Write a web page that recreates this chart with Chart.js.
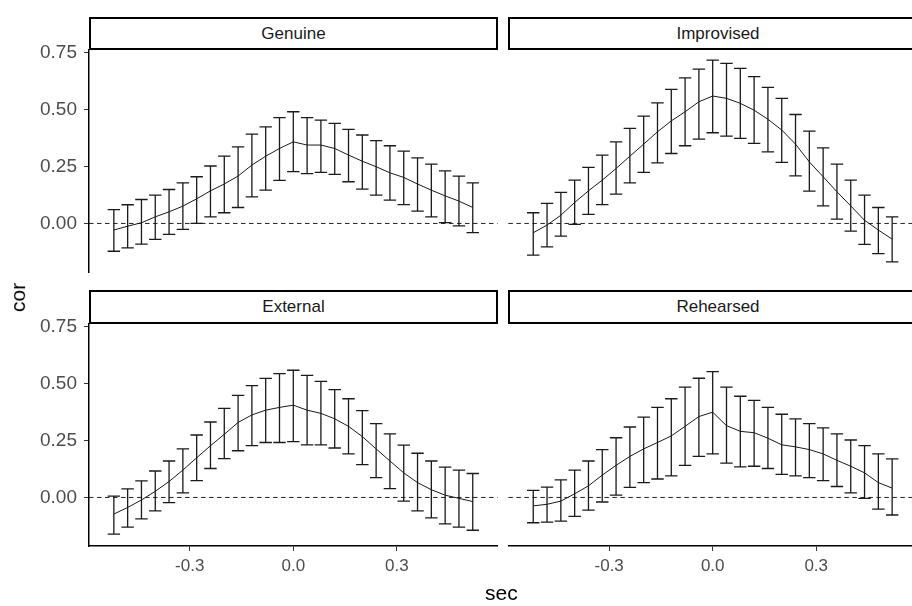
<!DOCTYPE html>
<html>
<head>
<meta charset="utf-8">
<script src="https://cdn.jsdelivr.net/npm/chart.js@4.4.1/dist/chart.umd.min.js"></script>
<style>
  html, body { margin:0; padding:0; background:#fff; overflow:hidden; width:912px; height:606px; }
  body { position:relative; font-family:'Liberation Sans', Arial, sans-serif; }
  canvas { position:absolute; }
  .strip { position:absolute; box-sizing:border-box; border:2px solid #000; background:#fff;
           font-size:17px; color:#1a1a1a; display:flex; align-items:center; justify-content:center; }
  .axis-title { position:absolute; font-size:21px; color:#000; line-height:1; }
</style>
</head>
<body>

<canvas id="c-genuine"    width="510" height="272" style="left:0px;   top:25px"></canvas>
<canvas id="c-improvised" width="430" height="272" style="left:500px; top:25px"></canvas>
<canvas id="c-external"   width="510" height="307" style="left:0px;   top:299px"></canvas>
<canvas id="c-rehearsed"  width="430" height="307" style="left:500px; top:299px"></canvas>

<div class="strip" style="left:89px; top:17px; width:409px; height:33px">Genuine</div>
<div class="strip" style="left:508px; top:17px; width:420px; height:33px">Improvised</div>
<div class="strip" style="left:89px; top:290px; width:409px; height:34px">External</div>
<div class="strip" style="left:508px; top:290px; width:420px; height:34px">Rehearsed</div>

<div class="axis-title" style="left:3px; top:287px; transform:rotate(-90deg)">cor</div>
<div class="axis-title" style="left:485px; top:582px">sec</div>

<script>
// ------------------------------------------------------------
// data (lag in seconds, mean correlation and error bar limits)
// ------------------------------------------------------------
const sec = [-0.52,-0.48,-0.44,-0.40,-0.36,-0.32,-0.28,-0.24,-0.20,-0.16,-0.12,-0.08,-0.04,0.00,
              0.04, 0.08, 0.12, 0.16, 0.20, 0.24, 0.28, 0.32, 0.36, 0.40, 0.44, 0.48, 0.52];

const genuineMean  = [-0.029,-0.012,0.003,0.029,0.051,0.076,0.108,0.143,0.173,0.208,0.256,0.295,0.329,0.358,0.344,0.344,0.329,0.300,0.273,0.249,0.222,0.202,0.173,0.146,0.121,0.098,0.070];
const genuineLow   = [-0.122,-0.107,-0.091,-0.070,-0.048,-0.026,0.000,0.029,0.047,0.070,0.117,0.146,0.189,0.227,0.219,0.224,0.215,0.183,0.151,0.124,0.102,0.083,0.054,0.029,0.004,-0.011,-0.040];
const genuineHigh  = [0.061,0.082,0.105,0.124,0.149,0.178,0.205,0.252,0.295,0.336,0.392,0.424,0.464,0.490,0.464,0.453,0.439,0.413,0.388,0.363,0.341,0.317,0.288,0.260,0.231,0.208,0.178];

const improvMean   = [-0.041,-0.007,0.036,0.092,0.143,0.190,0.241,0.295,0.348,0.402,0.450,0.490,0.534,0.559,0.549,0.527,0.497,0.457,0.410,0.348,0.270,0.205,0.139,0.077,0.014,-0.029,-0.069];
const improvLow    = [-0.139,-0.103,-0.056,-0.004,0.040,0.083,0.129,0.178,0.224,0.266,0.307,0.341,0.370,0.398,0.383,0.373,0.351,0.314,0.268,0.209,0.142,0.077,0.019,-0.034,-0.092,-0.132,-0.169];
const improvHigh   = [0.047,0.088,0.136,0.190,0.246,0.300,0.358,0.417,0.471,0.529,0.588,0.639,0.677,0.717,0.702,0.680,0.644,0.597,0.549,0.478,0.405,0.332,0.260,0.190,0.124,0.070,0.029];

const externalMean = [-0.073,-0.044,-0.011,0.027,0.070,0.120,0.174,0.227,0.277,0.329,0.362,0.383,0.395,0.405,0.383,0.369,0.345,0.312,0.267,0.213,0.160,0.108,0.065,0.034,0.010,-0.004,-0.018];
const externalLow  = [-0.161,-0.130,-0.094,-0.059,-0.023,0.020,0.074,0.127,0.170,0.205,0.227,0.241,0.241,0.245,0.231,0.231,0.217,0.191,0.144,0.087,0.039,-0.016,-0.059,-0.090,-0.116,-0.130,-0.144];
const externalHigh = [0.006,0.038,0.073,0.116,0.160,0.213,0.274,0.331,0.391,0.448,0.491,0.522,0.543,0.558,0.536,0.509,0.473,0.433,0.381,0.324,0.279,0.230,0.194,0.160,0.133,0.120,0.105];

const rehearsMean  = [-0.037,-0.030,-0.016,0.016,0.051,0.098,0.141,0.180,0.213,0.241,0.270,0.312,0.355,0.374,0.315,0.290,0.284,0.260,0.231,0.222,0.210,0.191,0.163,0.137,0.108,0.065,0.041];
const rehearsLow   = [-0.111,-0.108,-0.104,-0.083,-0.056,-0.020,0.010,0.044,0.065,0.081,0.095,0.141,0.180,0.191,0.151,0.134,0.137,0.127,0.101,0.095,0.087,0.074,0.048,0.020,-0.004,-0.051,-0.077];
const rehearsHigh  = [0.031,0.045,0.077,0.120,0.160,0.210,0.262,0.309,0.352,0.395,0.433,0.484,0.523,0.552,0.484,0.444,0.426,0.395,0.365,0.345,0.324,0.305,0.279,0.252,0.227,0.191,0.169];

const xTicks = [-0.3, 0.0, 0.3];
const yTicks = [0.00, 0.25, 0.50, 0.75];

// ------------------------------------------------------------
const FONT = "'Liberation Sans', Arial, sans-serif";
const INK  = '#1a1a1a';

// dashed zero line + error bars, drawn through the chart's own scales
const errorBars = {
  id: 'errorBars',
  beforeDatasetsDraw(chart) {
    const { ctx, chartArea: a, scales: { y } } = chart;
    const y0 = y.getPixelForValue(0);
    ctx.save();
    ctx.strokeStyle = '#222';
    ctx.lineWidth = 1;
    ctx.setLineDash([4.5, 3.5]);
    ctx.beginPath();
    ctx.moveTo(a.left, y0);
    ctx.lineTo(a.right, y0);
    ctx.stroke();
    ctx.restore();
  },
  afterDatasetsDraw(chart, args, opts) {
    const { ctx, scales: { x, y } } = chart;
    const half = 0.018;
    ctx.save();
    ctx.strokeStyle = INK;
    ctx.lineWidth = 1.3;
    sec.forEach((s, i) => {
      const px  = x.getPixelForValue(s);
      const pl  = x.getPixelForValue(s - half);
      const pr  = x.getPixelForValue(s + half);
      const lo  = y.getPixelForValue(opts.low[i]);
      const hi  = y.getPixelForValue(opts.high[i]);
      ctx.beginPath();
      ctx.moveTo(px, lo); ctx.lineTo(px, hi);
      ctx.moveTo(pl, lo); ctx.lineTo(pr, lo);
      ctx.moveTo(pl, hi); ctx.lineTo(pr, hi);
      ctx.stroke();
    });
    ctx.restore();
  },
};

function makePanel(id, mean, low, high, cfg) {
  const xScale = {
    type: 'linear', min: -0.592, max: 0.592, display: cfg.showX,
    afterBuildTicks: s => { s.ticks = xTicks.map(v => ({ value: v })); },
    afterFit: s => { s.height = cfg.showX ? cfg.xHeight : 0; },
    ticks: { callback: v => v.toFixed(1), color: '#4d4d4d', font: { family: FONT, size: 17 }, padding: 5, maxRotation: 0, autoSkip: false },
    grid:  { display: true, drawOnChartArea: false, drawTicks: true, tickLength: 5, color: '#333', lineWidth: 1 },
    border:{ display: true, color: '#000', width: 1.5 },
  };
  const yScale = {
    type: 'linear', min: -0.213, max: 0.761, display: cfg.showY,
    afterBuildTicks: s => { s.ticks = yTicks.map(v => ({ value: v })); },
    afterFit: s => { s.width = cfg.showY ? 89 : 0; },
    ticks: { callback: v => v.toFixed(2), color: '#4d4d4d', font: { family: FONT, size: 19 }, padding: 7 },
    grid:  { display: true, drawOnChartArea: false, drawTicks: true, tickLength: 5, color: '#333', lineWidth: 1 },
    border:{ display: true, color: '#000', width: 1.5 },
  };

  return new Chart(document.getElementById(id), {
    type: 'line',
    data: {
      datasets: [{
        data: sec.map((s, i) => ({ x: s, y: mean[i] })),
        borderColor: INK, borderWidth: 1, pointRadius: 0, tension: 0, fill: false,
      }],
    },
    options: {
      responsive: false, animation: false, devicePixelRatio: 1,
      layout: { padding: cfg.padding },
      plugins: {
        legend: { display: false }, tooltip: { enabled: false }, title: { display: false },
        errorBars: { low, high },
      },
      scales: { x: xScale, y: yScale },
    },
    plugins: [errorBars],
  });
}

makePanel('c-genuine',    genuineMean,  genuineLow,  genuineHigh,
  { showX: false, showY: true,  padding: { left: 0,   right: 12.4, top: 25, bottom: 25 } });
makePanel('c-improvised', improvMean,   improvLow,   improvHigh,
  { showX: false, showY: false, padding: { left: 8.4, right: 13,   top: 25, bottom: 25 } });
makePanel('c-external',   externalMean, externalLow, externalHigh,
  { showX: true,  showY: true,  xHeight: 60, padding: { left: 0,   right: 12.4, top: 25, bottom: 0 } });
makePanel('c-rehearsed',  rehearsMean,  rehearsLow,  rehearsHigh,
  { showX: true,  showY: false, xHeight: 60, padding: { left: 8.4, right: 13,   top: 25, bottom: 0 } });
</script>
</body>
</html>
